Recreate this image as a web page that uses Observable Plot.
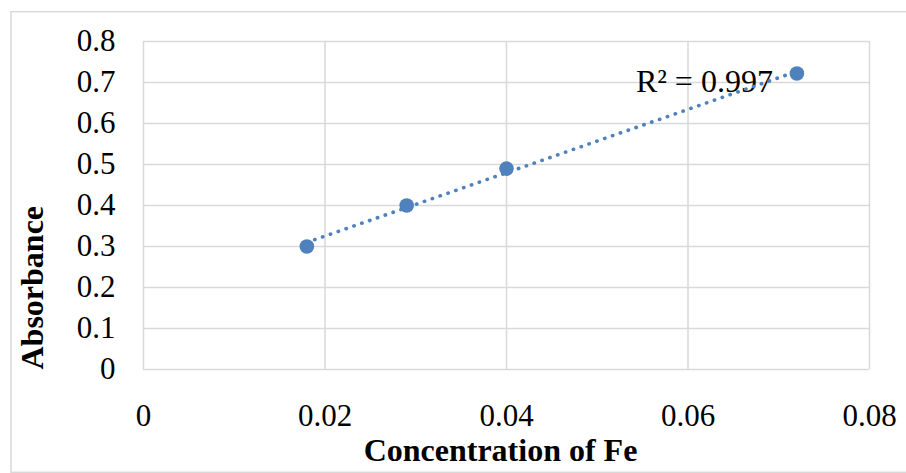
<!DOCTYPE html>
<html>
<head>
<meta charset="utf-8">
<script src="https://cdn.jsdelivr.net/npm/d3@7"></script>
<script src="https://cdn.jsdelivr.net/npm/@observablehq/plot@0.6"></script>
<style>
  html, body { margin: 0; padding: 0; background: #fff; }
  svg { display: block; }
</style>
</head>
<body>
<div id="chart"></div>
<script>
// Data
const concentration = [0.018, 0.029, 0.040, 0.072];
const absorbance = [0.30, 0.40, 0.49, 0.722];
const xTicks = [0, 0.02, 0.04, 0.06, 0.08];
const yTicks = [0, 0.1, 0.2, 0.3, 0.4, 0.5, 0.6, 0.7, 0.8];
const xLabel = "Concentration of Fe";
const yLabel = "Absorbance";
const r2Label = "R² = 0.997";

const data = concentration.map((c, i) => ({x: c, y: absorbance[i]}));
const last = [data[data.length - 1]];

const blue = "#4F81BD";
const grid = "#d9d9d9";

const svg = Plot.plot({
  width: 906,
  height: 473,
  marginLeft: 143,
  marginRight: 37,
  marginTop: 41,
  marginBottom: 104,
  style: {fontFamily: "'Liberation Serif', 'Times New Roman', serif", fontSize: "31px", color: "black", background: "white"},
  x: {domain: [0, 0.08], ticks: xTicks, tickFormat: d => String(d), tickSize: 0, tickPadding: 34, label: null},
  y: {domain: [0, 0.8], ticks: yTicks, tickFormat: d => String(d), tickSize: 0, tickPadding: 28, label: null},
  marks: [
    Plot.ruleY(yTicks, {stroke: grid, strokeWidth: 1.5}),
    Plot.ruleX(xTicks, {stroke: grid, strokeWidth: 1.5}),
    Plot.text(last, {x: "x", y: "y", text: () => r2Label, textAnchor: "end", dx: -24, dy: 8, fontSize: 32, fill: "black"}),
    Plot.linearRegressionY(data, {x: "x", y: "y", ci: 0, stroke: blue, strokeWidth: 3.6, strokeDasharray: "0.3 8", strokeLinecap: "round"}),
    Plot.dot(data, {x: "x", y: "y", r: 7.3, fill: blue}),
    Plot.text([xLabel], {frameAnchor: "bottom", text: d => d, dy: 91, dx: -6, fontSize: 32, fontWeight: "bold", fill: "black"}),
    Plot.text([yLabel], {frameAnchor: "bottom-left", text: d => d, rotate: -90, textAnchor: "start", dx: -101, dy: 0, fontSize: 32, fontWeight: "bold", fill: "black"})
  ]
});

d3.select(svg).append("rect")
  .attr("x", 11)
  .attr("y", 11.7)
  .attr("width", 906)
  .attr("height", 460.6)
  .attr("fill", "none")
  .attr("stroke", grid)
  .attr("stroke-width", 1.5);

document.getElementById("chart").appendChild(svg);
</script>
</body>
</html>
